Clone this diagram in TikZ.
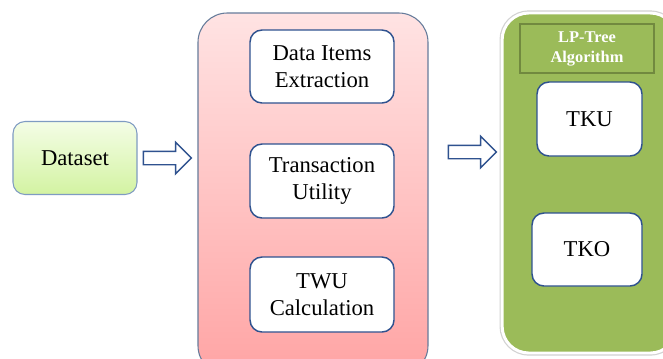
\documentclass[tikz,border=0pt]{standalone}
\usepackage{fontspec}
\setmainfont{Liberation Serif}
\usetikzlibrary{shapes.arrows}
\definecolor{edgeblue}{HTML}{2F528F}
\definecolor{softblue}{HTML}{7F9BC2}
\definecolor{pinktop}{HTML}{FFE3E3}
\definecolor{pinkbot}{HTML}{FFA4A4}
\definecolor{limetop}{HTML}{F4FDE6}
\definecolor{limebot}{HTML}{D3F3A2}
\definecolor{olive}{HTML}{9BBB59}
\definecolor{olivedark}{HTML}{71893F}
\tikzset{
  bigfont/.style={font=\fontsize{17}{20}\selectfont},
  stepbox/.style={draw=edgeblue, line width=1.1pt, fill=white, rounded corners=9pt,
    align=center, bigfont, inner sep=0pt},
  fatarrow/.style={single arrow, draw=edgeblue, line width=1.1pt, fill=white,
    inner sep=4.5pt, single arrow head extend=6.75pt, minimum height=36pt},
}
\begin{document}
\begin{tikzpicture}[x=0.75pt,y=-0.75pt]
    \clip (0,0) rectangle (663,358);
    \fill[white] (0,0) rectangle (663,358);
    % input
    \node[draw=softblue, line width=0.8pt, top color=limetop, bottom color=limebot,
      rounded corners=9pt, minimum width=93pt, minimum height=54.75pt, bigfont]
      (dataset) at (75,158) {Dataset};
    \node[fatarrow] (ar1) at (164,158) {};
    % preprocessing
    \node[draw=softblue!80!black, line width=0.8pt, top color=pinktop, bottom color=pinkbot,
      rounded corners=22pt, minimum width=172.5pt, minimum height=271.5pt]
      (prep) at (313,194) {};
    \node[stepbox, minimum width=108pt, minimum height=54.75pt] (items) at (322,66.5)
      {Data Items\\Extraction};
    \node[stepbox, minimum width=108pt, minimum height=55.5pt] (tu) at (322,181)
      {Transaction\\Utility};
    \node[stepbox, minimum width=108pt, minimum height=56.25pt] (twu) at (322,294.5)
      {TWU\\Calculation};
    \node[fatarrow] (ar2) at (469,152) {};
    % mining
    \node[draw=gray!35, line width=4pt, rounded corners=20pt,
      minimum width=131pt, minimum height=255pt] (algo) at (589.5,183) {};
    \node[draw=white, line width=2.2pt, fill=olive, rounded corners=20pt,
      minimum width=131pt, minimum height=255pt] (algoin) at (589.5,183) {};
    \node[draw=olivedark, line width=0.8pt, fill=olive, minimum width=100.5pt,
      minimum height=36.75pt, text=white, align=center,
      font=\fontsize{12.3}{15}\selectfont\bfseries] (title) at (587,48.5)
      {LP-Tree\\Algorithm};
    \node[stepbox, minimum width=78.75pt, minimum height=55.5pt] (tku) at (589.5,119) {TKU};
    \node[stepbox, minimum width=82.5pt, minimum height=54.75pt] (tko) at (587,249.5) {TKO};
\end{tikzpicture}
\end{document}
